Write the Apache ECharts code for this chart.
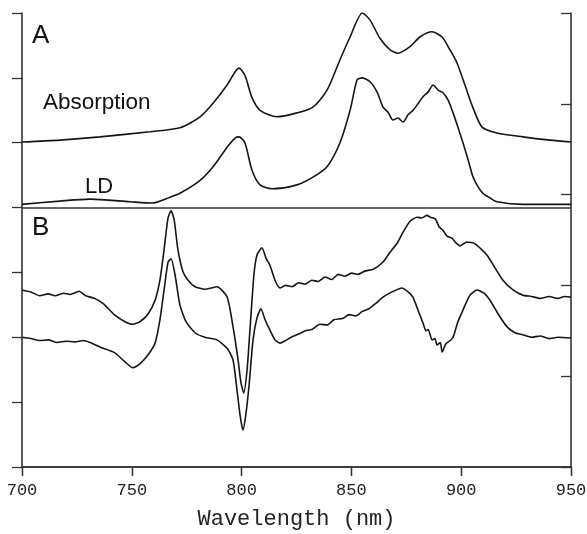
<!DOCTYPE html>
<html>
<head>
<meta charset="utf-8">
<script src="https://cdn.jsdelivr.net/npm/echarts@6/dist/echarts.min.js"></script>
<style>html,body{margin:0;padding:0;background:#fff}#c{width:587px;height:534px}</style>
</head>
<body>
<div id="c"></div>
<script>
// x ticks
const xTicks = [700, 750, 800, 850, 900, 950];
// Panel A: absorption
const absWl = [700,717.3,735.5,758.3,771.9,781.1,787.0,793.4,797.0,798.8,801.5,804.7,808.4,816.1,825.2,832.5,838.9,844.8,849.4,855,858.5,863,867.6,871.2,876.7,881.2,886.7,891.3,894.9,898.1,901.7,904.9,909.5,916.3,928.1,940.4,950];
const absVal = [5.01,5.04,5.09,5.17,5.23,5.40,5.61,5.89,6.09,6.15,6.04,5.70,5.50,5.40,5.46,5.55,5.81,6.28,6.63,7.00,6.89,6.61,6.43,6.38,6.48,6.63,6.71,6.63,6.43,6.23,5.89,5.58,5.24,5.15,5.09,5.04,5.01];
// Panel A: LD
const ldWl = [700,717.3,731.0,749.2,759.2,767.4,771.9,781.1,787.0,793.4,797.0,798.8,801.5,804.7,808.4,813.8,825.2,832.5,838.9,844.8,849.4,852.6,854.8,858.5,861.7,864.4,866.7,868.9,871.2,873.5,875.8,878.1,880.3,882.6,884.9,887.2,889.5,891.7,894.0,896.3,898.5,900.8,903.1,905.4,907.7,909.9,913.1,916.3,928.1,950];
const ldVal = [4.05,4.10,4.13,4.09,4.07,4.16,4.22,4.42,4.63,4.93,5.07,5.09,5.00,4.58,4.35,4.29,4.35,4.47,4.63,5.00,5.50,5.97,6.00,5.94,5.78,5.55,5.47,5.35,5.38,5.32,5.43,5.50,5.60,5.71,5.78,5.89,5.81,5.77,5.66,5.46,5.24,5.00,4.74,4.47,4.32,4.22,4.15,4.09,4.05,4.05];
// Panel B: upper trace
const bUpWl = [700,704,708,712,715,719,722,726,729,733,737,742.3,746.9,750.5,753.7,757.4,760.6,762.8,764.7,766.5,767.9,769.3,771.0,773.3,775.6,778.8,783.3,788.8,793.4,796.1,798.4,799.7,801.0,802.5,803.8,805.6,807.0,809.3,811.1,812.9,815.2,817.5,820,823,826,829,832,835,838,841,844,847,850,853,856,860,864.4,867.6,870.8,873.5,876.7,879.9,882,884.4,886,888.1,890,891.7,893.5,895.8,897.5,899.5,902.6,906.3,911.7,915.4,919.0,923.6,928,932,936,940,944,947,950];
const bUpVal = [2.73,2.70,2.64,2.67,2.64,2.68,2.66,2.71,2.64,2.60,2.52,2.34,2.24,2.20,2.24,2.36,2.57,2.88,3.35,3.84,3.95,3.81,3.35,3.01,2.88,2.78,2.74,2.78,2.62,2.16,1.65,1.30,1.14,1.50,2.11,2.96,3.27,3.38,3.22,3.11,2.88,2.76,2.80,2.78,2.84,2.82,2.88,2.86,2.93,2.89,2.97,2.94,2.99,2.97,3.02,3.05,3.16,3.31,3.45,3.62,3.79,3.85,3.84,3.88,3.85,3.83,3.70,3.65,3.56,3.53,3.46,3.41,3.47,3.44,3.27,3.07,2.88,2.73,2.65,2.63,2.60,2.63,2.60,2.63,2.62];
// Panel B: lower trace
const bLoWl = [700,704,708,712,716,720,724,728,731,735.5,742.3,746.9,750.5,753.7,757.4,760.6,762.8,764.7,766.5,767.9,769.7,771.9,774.7,778.8,783.3,788.8,793.4,796.1,797.9,799.3,800.6,801.9,803.4,805.2,807.0,808.8,810.7,812.9,815.2,817.5,820,822,826,829,832,835.7,839,842,846,849,852,855,858,861,864.4,868.5,873.0,875.8,878.0,880.3,882.6,884,885,886.7,888,889,890.5,891.3,893,895,896.3,898.5,900.8,904.0,907.2,910.4,913.1,917.2,920.9,924.5,928,932,936,940,944,950];
const bLoVal = [2.00,1.98,1.95,1.96,1.92,1.94,1.93,1.95,1.92,1.85,1.76,1.62,1.53,1.59,1.73,1.91,2.27,2.73,3.16,3.21,2.96,2.50,2.24,2.07,2.00,1.96,1.83,1.65,1.19,0.80,0.57,0.80,1.26,1.96,2.30,2.44,2.27,2.11,1.96,1.91,1.95,1.99,2.05,2.10,2.12,2.20,2.19,2.27,2.29,2.35,2.33,2.40,2.44,2.52,2.62,2.70,2.76,2.70,2.62,2.42,2.22,2.10,2.12,1.96,1.98,1.88,1.92,1.77,1.90,1.95,2.00,2.24,2.42,2.65,2.73,2.68,2.57,2.34,2.16,2.07,2.04,2.00,2.02,1.98,2.00,1.99];
// Panel divider position (left axis units)
const dividerY = 4;

const pair = (xs, ys) => xs.map((x, i) => [x, ys[i]]);
const FONT_MONO = 'Liberation Mono';
const FONT_SANS = 'Liberation Sans';
const AX = '#333';
const LINE = '#151515';

const chart = echarts.init(document.getElementById('c'), null, {renderer: 'canvas'});
const lineSeries = (name, data, sm) => ({
  name, type: 'line', data, xAxisIndex: 0, yAxisIndex: 0,
  showSymbol: false, symbol: 'none', smooth: sm,
  lineStyle: {color: LINE, width: 1.6}, animation: false
});
const s = [
  lineSeries('Absorption', pair(absWl, absVal), 0.25),
  lineSeries('LD', pair(ldWl, ldVal), 0.25),
  lineSeries('B upper', pair(bUpWl, bUpVal), 0.2),
  lineSeries('B lower', pair(bLoWl, bLoVal), 0.2)
];
s[0].markLine = {
  silent: true, symbol: 'none', animation: false,
  label: {show: false},
  lineStyle: {color: AX, width: 1.6, type: 'solid'},
  data: [{yAxis: dividerY}]
};
chart.setOption({
  animation: false,
  backgroundColor: '#fff',
  grid: {left: 22, right: 16, top: 13, bottom: 67, outerBoundsMode: 'none', containLabel: false},
  xAxis: [{
    type: 'value', position: 'bottom', min: xTicks[0], max: xTicks[xTicks.length-1], interval: 50,
    axisLine: {show: true, lineStyle: {color: AX, width: 1.6}},
    axisTick: {show: true, inside: false, length: 9, lineStyle: {color: AX, width: 1.3}},
    axisLabel: {show: true, fontFamily: FONT_MONO, fontSize: 17, color: '#222', margin: 15},
    splitLine: {show: false},
    name: 'Wavelength (nm)', nameLocation: 'middle', nameGap: 41,
    nameTextStyle: {fontFamily: FONT_MONO, fontSize: 22, color: '#222'}
  }, {
    type: 'value', position: 'top', min: xTicks[0], max: xTicks[xTicks.length-1], interval: 50,
    axisLine: {show: true, lineStyle: {color: AX, width: 1.6}},
    axisTick: {show: true, inside: true, length: 9, lineStyle: {color: AX, width: 1.3}},
    axisLabel: {show: false}, splitLine: {show: false}
  }],
  yAxis: [{
    type: 'value', position: 'left', min: 0, max: 7, interval: 1,
    axisLine: {show: true, lineStyle: {color: AX, width: 1.6}},
    axisTick: {show: true, inside: false, length: 10, lineStyle: {color: AX, width: 1.3}},
    axisLabel: {show: false}, splitLine: {show: false}
  }, {
    type: 'value', position: 'right', min: 0, max: 5, interval: 1,
    axisLine: {show: true, lineStyle: {color: AX, width: 1.6}},
    axisTick: {show: true, inside: true, length: 10, lineStyle: {color: AX, width: 1.3}},
    axisLabel: {show: false}, splitLine: {show: false}
  }],
  graphic: [
    {type: 'text', left: 32, top: 23, style: {text: 'A', fontFamily: FONT_SANS, fontSize: 26, fill: '#111'}},
    {type: 'text', left: 32, top: 215, style: {text: 'B', fontFamily: FONT_SANS, fontSize: 26, fill: '#111'}},
    {type: 'text', left: 43, top: 91, style: {text: 'Absorption', fontFamily: FONT_SANS, fontSize: 22.5, fill: '#111'}},
    {type: 'text', left: 85, top: 176, style: {text: 'LD', fontFamily: FONT_SANS, fontSize: 22, fill: '#111'}}
  ],
  series: s
});
</script>
</body>
</html>
